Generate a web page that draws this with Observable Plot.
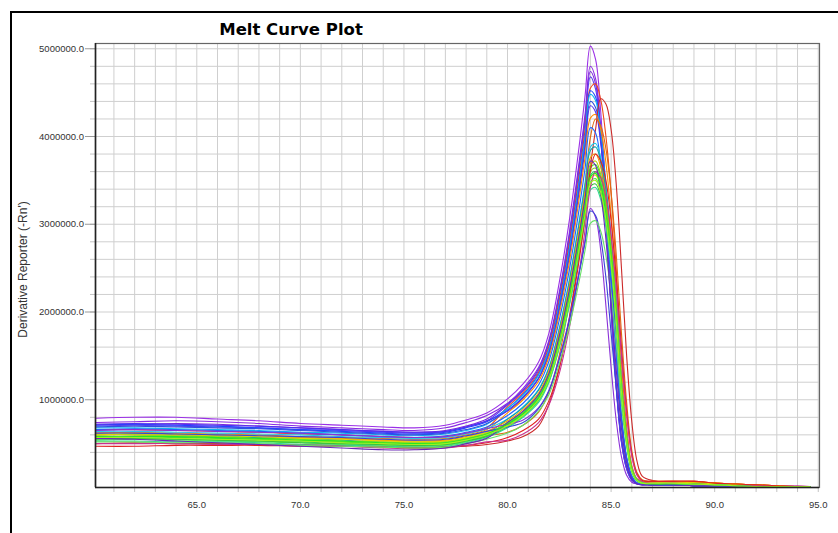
<!DOCTYPE html>
<html>
<head>
<meta charset="utf-8">
<script src="https://cdn.jsdelivr.net/npm/d3@7"></script>
<script src="https://cdn.jsdelivr.net/npm/@observablehq/plot@0.6"></script>
<style>
  html, body { margin: 0; padding: 0; background: #fff; }
  #wrap { position: relative; width: 838px; height: 533px; overflow: hidden; background: #fff; }
  #wrap svg { position: absolute; left: 0; top: 0; }
  #outer { position: absolute; left: 10px; top: 11px; width: 900px; height: 600px;
           border-left: 2px solid #000; border-top: 2px solid #000; pointer-events: none; }
</style>
</head>
<body>
<div id="wrap"><div id="outer"></div></div>
<script>
// ---- data (derivative reporter values in units of 10,000) ----
const UNIT = 10000;
const titleText = "Melt Curve Plot";
const yLabelText = "Derivative Reporter (-Rn')";
const temps = [60.15, 62, 64, 66, 68, 70, 72, 74, 75.5, 77, 78, 79,
  80, 80.75, 81.5, 82, 82.5, 83, 83.5, 83.75,
  84, 84.25, 84.5, 84.75, 85, 85.25, 85.5, 85.75, 86, 86.25, 86.5,
  87, 88, 89, 90, 91, 92, 93, 94, 94.6];
const xTickLabels = [65, 70, 75, 80, 85, 90, 95];
const yTickLabels = [1000000, 2000000, 3000000, 4000000, 5000000];

const w01 = [79,80,80,78,76,73,71,69, 68,71,77,85, 101,118,143,176,234,307,397,448, 503,488,428,327,216,121,55,23,9,5,4, 3,3,2,2,2,1,1,1,1];
const w02 = [74,75,76,75,73,70,68,66, 65,68,74,82, 96,113,137,168,223,293,379,427, 480,466,408,312,206,115,53,22,9,5,4, 3,3,2,2,2,1,1,1,1];
const w03 = [72,72,73,72,70,68,66,64, 63,65,70,78, 95,111,135,166,220,289,374,422, 474,460,403,308,204,114,52,21,9,5,4, 3,3,2,2,2,1,1,1,1];
const w04 = [70,71,70,69,68,66,65,63, 62,64,69,76, 94,110,133,164,218,285,370,417, 468,454,398,304,201,112,51,21,8,5,4, 3,3,2,2,2,1,1,1,1];
const w05 = [66,66,65,64,63,61,60,58, 57,58,62,68, 92,108,131,161,214,281,363,409, 455,460,442,400,336,248,143,69,25,10,7, 7,7,7,5,4,3,2,1,1];
const w06 = [71,72,71,70,68,66,64,62, 61,63,68,75, 90,106,129,158,210,276,357,402, 452,445,407,344,253,163,81,34,13,5,4, 3,3,2,2,2,1,1,1,1];
const w07 = [68,68,67,66,65,63,62,60, 59,61,65,72, 90,105,128,157,208,273,354,399, 448,441,403,340,251,161,81,34,13,5,4, 4,3,3,2,2,1,1,1,1];
const w08 = [69,70,69,68,67,65,63,61, 60,62,66,73, 88,103,125,154,205,268,348,392, 440,433,396,334,246,158,79,33,12,5,4, 3,3,2,2,2,1,1,1,1];
const w09 = [50,51,50,50,49,49,48,47, 46,46,47,49, 53,58,70,95,136,196,272,318, 366,408,443,437,408,345,250,150,75,30,13, 8,7,7,5,4,3,2,1,1];
const w10 = [72,73,72,71,70,68,66,64, 63,64,69,76, 87,102,124,152,202,265,344,387, 435,428,392,331,244,157,78,33,12,5,4, 3,3,2,2,2,1,1,1,1];
const w11 = [62,63,62,61,60,58,57,56, 55,56,60,66, 85,100,121,149,198,259,336,378, 421,425,408,370,310,230,132,64,23,9,7, 7,7,6,5,4,3,2,1,1];
const w12 = [60,60,59,58,57,56,55,54, 53,53,55,59, 63,71,86,109,151,214,294,344, 399,420,412,386,336,265,176,97,42,17,9, 7,7,7,5,4,3,2,1,1];
const w13 = [66,67,66,65,64,62,60,58, 57,59,63,69, 82,96,117,144,191,250,324,365, 410,404,369,312,230,148,74,31,11,5,4, 3,3,2,2,2,1,1,1,1];
const w14 = [64,64,63,62,61,60,58,57, 56,57,61,67, 78,92,112,137,182,239,310,349, 388,392,376,341,286,212,122,59,22,9,6, 4,4,3,3,2,1,1,1,1];
const w15 = [60,61,60,59,57,56,54,52, 51,52,56,62, 78,91,111,136,180,237,307,345, 384,388,372,338,283,210,120,58,21,9,6, 4,4,3,3,2,1,1,1,1];
const w16 = [62,62,61,60,59,57,56,54, 53,54,58,64, 76,89,108,133,177,232,300,338, 376,380,365,331,277,205,118,57,21,8,6, 6,6,6,5,4,3,2,1,1];
const w17 = [58,58,57,56,55,54,52,51, 50,51,55,61, 74,87,106,130,173,227,294,331, 368,372,357,324,272,201,115,56,20,8,5, 5,5,5,4,3,2,1,1,1];
const w18 = [57,58,57,56,55,53,52,50, 49,50,54,60, 74,86,105,129,171,224,291,328, 364,368,353,320,269,199,114,55,20,8,5, 4,4,4,3,2,1,1,1,1];
const w19 = [60,60,59,58,56,55,53,52, 51,52,56,62, 73,86,104,127,169,222,288,324, 360,364,349,317,266,197,113,55,20,8,5, 5,5,4,3,2,1,1,1,1];
const w20 = [56,56,55,54,53,52,50,49, 48,49,53,59, 72,85,103,126,167,220,284,320, 356,360,346,313,263,194,112,54,20,8,5, 4,4,4,3,2,1,1,1,1];
const w21 = [60,61,60,59,58,56,55,53, 52,53,57,63, 71,84,101,125,166,217,281,317, 352,356,342,310,260,192,110,53,20,8,5, 6,6,5,4,3,2,1,1,1];
const w22 = [54,55,54,53,52,51,49,48, 47,48,52,58, 70,83,100,123,164,215,278,313, 348,352,338,306,257,190,109,53,19,8,5, 4,4,4,3,2,1,1,1,1];
const w23 = [55,56,55,54,53,51,50,49, 48,49,53,58, 69,81,99,121,161,211,273,308, 343,346,332,301,253,187,107,52,19,8,5, 4,4,4,3,2,1,1,1,1];
const w24 = [53,53,52,52,51,49,48,47, 46,47,51,57, 68,80,97,120,159,209,270,304, 339,342,328,298,250,185,106,51,19,8,5, 4,4,3,3,2,1,1,1,1];
const w25 = [47,47,48,48,48,47,47,46, 45,46,48,51, 57,65,78,99,137,194,266,312, 361,380,372,350,304,239,160,87,38,15,8, 7,7,7,5,4,3,2,1,1];
const w26 = [50,50,50,49,49,48,47,45, 44,45,48,52, 54,61,74,94,130,184,252,295, 342,360,353,331,288,227,151,83,36,14,7, 5,5,4,3,2,2,1,2,1];
const w27 = [65,66,65,64,63,62,60,58, 57,58,62,67, 72,77,91,111,148,194,251,283, 318,308,270,207,137,76,35,14,6,4,3, 3,3,2,2,2,1,1,1,1];
const w28 = [62,62,61,60,59,58,57,55, 54,55,59,64, 69,74,90,110,146,192,249,280, 315,310,284,239,176,113,57,24,9,4,3, 3,3,2,2,2,1,1,1,1];
const w29 = [52,52,51,51,50,48,47,46, 45,46,50,55, 62,71,87,106,141,185,240,271, 301,304,292,264,222,164,94,46,17,7,5, 4,4,3,3,2,1,1,1,1];
const w30 = [56,55,53,51,49,47,45,43, 43,45,50,56, 74,87,106,130,173,227,294,331, 372,367,335,283,208,134,67,28,10,4,3, 3,3,2,2,2,1,1,1,1];
const w31 = [58,58,58,57,56,54,53,51, 50,51,55,61, 72,84,102,125,166,218,283,319, 354,358,344,311,261,193,111,54,20,8,5, 4,4,4,3,2,1,1,1,1];
const w32 = [57,57,56,55,54,53,51,50, 49,50,54,60, 70,82,100,123,163,214,277,312, 347,350,336,305,256,189,109,53,19,8,5, 5,5,4,3,2,1,1,1,1];

const wellReadings = [w01,w02,w03,w04,w05,w06,w07,w08,w09,w10,w11,w12,w13,w14,w15,w16,
                      w17,w18,w19,w20,w21,w22,w23,w24,w25,w26,w27,w28,w29,w30,w31,w32];
const wellColors = ["#9b30e6","#8a2be2","#7a28d8","#5a3cf0","#f04a1a","#2244ff","#10b8f0","#3050e0",
                    "#cc2a2a","#5030f0","#ff8c00","#e06a10","#1e64ff","#22c8e8","#12a0a8","#f0a000",
                    "#b4d400","#2ee02e","#84e020","#20d060","#e6d600","#52f052","#3cc03c","#30d890",
                    "#e02020","#c83090","#8a30d8","#3a44d8","#66e066","#6a28b8","#22e822","#a0f020"];

// ---- build table ----
const table = [];
wellReadings.forEach((vals, i) => {
  vals.forEach((v, j) => table.push({well: i, color: wellColors[i], t: temps[j], d: v * UNIT}));
});

const xDomain = [60.11, 95.06];
const yDomain = [0, 5060000];
const minorX = d3.range(61, 96, 1);
const minorY = d3.range(200000, 5000001, 200000);

const chart = Plot.plot({
  width: 838,
  height: 533,
  marginLeft: 95,
  marginRight: 19,
  marginTop: 43,
  marginBottom: 46,
  style: {background: "transparent", fontFamily: "'Liberation Sans', Arial, sans-serif", fontSize: "9.5px", color: "#333"},
  x: {domain: xDomain, label: null},
  y: {domain: yDomain, label: null},
  marks: [
    Plot.gridX(minorX, {stroke: "#cfcfcf", strokeOpacity: 1, strokeWidth: 1}),
    Plot.gridY(minorY, {stroke: "#cfcfcf", strokeOpacity: 1, strokeWidth: 1}),
    Plot.axisX(minorX, {tickSize: 5, tickFormat: () => "", stroke: "#c4c4c4", strokeOpacity: 1, label: null}),
    Plot.axisX(xTickLabels, {tickSize: 0, tickPadding: 14, tickFormat: d => d.toFixed(1), fill: "#333", label: null, fontSize: 9.5}),
    Plot.axisY(minorY, {tickSize: 5, tickFormat: () => "", stroke: "#c4c4c4", strokeOpacity: 1, label: null}),
    Plot.axisY(yTickLabels, {tickSize: 10, tickPadding: 1.5, tickFormat: d => d.toFixed(1), stroke: "#999", strokeOpacity: 1, fill: "#333", label: null, fontSize: 9.5}),
    Plot.line(table, {x: "t", y: "d", z: "well", stroke: "color", strokeWidth: 1.1, curve: "catmull-rom"}),
    Plot.frame({stroke: "#666", strokeWidth: 1.2}),
    Plot.ruleX([xDomain[0]], {stroke: "#222", strokeWidth: 1.6}),
    Plot.ruleY([yDomain[0]], {stroke: "#222", strokeWidth: 1.6}),
    Plot.text([titleText], {frameAnchor: "top-left", dx: 195.5, dy: -20, textAnchor: "middle",
      fontFamily: "'DejaVu Sans', Verdana, sans-serif", fontWeight: "bold", fontSize: 16.5, fill: "#000"}),
    Plot.text([yLabelText], {frameAnchor: "left", dx: -72.5, dy: 4, rotate: -90, textAnchor: "middle",
      fontFamily: "'Liberation Sans', Arial, sans-serif", fontSize: 12, fill: "#333"})
  ]
});

document.getElementById("wrap").insertBefore(chart, document.getElementById("outer"));
</script>
</body>
</html>
